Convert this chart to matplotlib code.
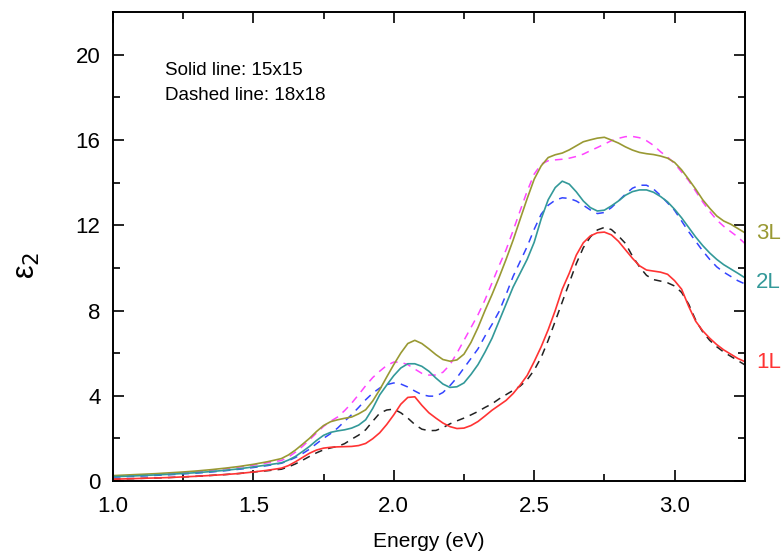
import numpy as np
import matplotlib
matplotlib.use('Agg')
import matplotlib.pyplot as plt
from matplotlib.ticker import MultipleLocator

plt.rcParams['font.family'] = ['Liberation Sans', 'DejaVu Sans']

# photon energy (eV): coarse below 1.6, finer where the spectra have structure
energy = np.round(np.concatenate([np.arange(1.0, 1.601, 0.05),
                                  np.arange(1.625, 3.2501, 0.025)]), 3)

# solid lines: 15x15
eps_3l = [0.25, 0.28, 0.31, 0.34, 0.38, 0.42, 0.47, 0.53, 0.60, 0.68, 0.78, 0.90, 1.05,
          1.22, 1.45, 1.72, 2.00, 2.32, 2.60, 2.78, 2.87, 2.94, 3.00, 3.15, 3.34, 3.75,
          4.28, 4.88, 5.46, 6.00, 6.45, 6.60, 6.45, 6.20, 5.93, 5.70, 5.62, 5.68, 5.95,
          6.50, 7.20, 8.00, 8.75, 9.55, 10.4, 11.3, 12.28, 13.25, 14.16, 14.79, 15.18,
          15.31, 15.39, 15.54, 15.73, 15.92, 16.01, 16.09, 16.13, 16.00, 15.86, 15.68,
          15.53, 15.42, 15.36, 15.32, 15.25, 15.15, 14.95, 14.60, 14.16, 13.70, 13.20,
          12.80, 12.44, 12.20, 12.05, 11.85, 11.65]
eps_2l = [0.20, 0.22, 0.25, 0.28, 0.31, 0.35, 0.39, 0.44, 0.50, 0.57, 0.66, 0.75, 0.85,
          0.98, 1.15, 1.38, 1.62, 1.90, 2.14, 2.28, 2.35, 2.40, 2.48, 2.62, 2.87, 3.40,
          4.04, 4.50, 4.94, 5.30, 5.50, 5.50, 5.38, 5.15, 4.83, 4.55, 4.39, 4.42, 4.60,
          5.00, 5.46, 6.05, 6.70, 7.50, 8.30, 9.10, 9.75, 10.4, 11.2, 12.3, 13.2, 13.77,
          14.07, 13.93, 13.57, 13.14, 12.83, 12.67, 12.71, 12.91, 13.14, 13.41, 13.58,
          13.66, 13.66, 13.55, 13.35, 13.10, 12.75, 12.35, 11.90, 11.45, 11.05, 10.70,
          10.40, 10.15, 9.95, 9.75, 9.54]
eps_1l = [0.08, 0.10, 0.12, 0.14, 0.16, 0.19, 0.22, 0.26, 0.30, 0.35, 0.42, 0.50, 0.60,
          0.72, 0.90, 1.10, 1.30, 1.45, 1.54, 1.58, 1.60, 1.61, 1.62, 1.66, 1.76, 1.98,
          2.26, 2.65, 3.10, 3.60, 3.92, 3.95, 3.55, 3.20, 2.95, 2.72, 2.55, 2.46, 2.48,
          2.60, 2.79, 3.05, 3.32, 3.55, 3.78, 4.10, 4.50, 4.95, 5.60, 6.30, 7.10, 8.00,
          9.00, 9.75, 10.6, 11.18, 11.5, 11.65, 11.68, 11.55, 11.25, 10.85, 10.45, 10.1,
          9.90, 9.85, 9.80, 9.70, 9.40, 9.00, 8.20, 7.50, 7.05, 6.70, 6.40, 6.15, 5.95,
          5.75, 5.60]

# dashed lines: 18x18
eps_3l_18 = [0.22, 0.25, 0.28, 0.31, 0.35, 0.39, 0.44, 0.50, 0.57, 0.65, 0.74, 0.85, 0.96,
             1.12, 1.35, 1.62, 1.93, 2.25, 2.56, 2.80, 3.00, 3.30, 3.65, 4.05, 4.47, 4.85,
             5.15, 5.42, 5.58, 5.57, 5.46, 5.25, 5.05, 4.97, 4.97, 5.10, 5.45, 6.00, 6.60,
             7.20, 7.80, 8.50, 9.30, 10.1, 10.85, 11.75, 12.68, 13.6, 14.4, 14.87, 15.03,
             15.07, 15.10, 15.15, 15.23, 15.34, 15.50, 15.65, 15.81, 15.97, 16.08, 16.16,
             16.17, 16.11, 15.97, 15.75, 15.45, 15.20, 14.90, 14.50, 14.10, 13.60, 13.10,
             12.65, 12.25, 11.95, 11.70, 11.45, 11.15]
eps_2l_18 = [0.18, 0.20, 0.23, 0.26, 0.29, 0.33, 0.37, 0.42, 0.48, 0.55, 0.63, 0.72, 0.83,
             0.95, 1.10, 1.28, 1.49, 1.75, 2.00, 2.22, 2.48, 2.80, 3.11, 3.45, 3.81, 4.12,
             4.36, 4.52, 4.60, 4.55, 4.41, 4.22, 4.05, 3.98, 3.98, 4.15, 4.47, 4.85, 5.30,
             5.75, 6.20, 6.80, 7.35, 7.95, 8.75, 9.60, 10.3, 11.0, 11.81, 12.52, 12.94,
             13.18, 13.29, 13.26, 13.14, 12.94, 12.72, 12.55, 12.60, 12.83, 13.14, 13.46,
             13.74, 13.88, 13.88, 13.70, 13.40, 13.05, 12.70, 12.20, 11.70, 11.25, 10.8,
             10.4, 10.05, 9.80, 9.60, 9.40, 9.25]
eps_1l_18 = [0.08, 0.10, 0.12, 0.14, 0.16, 0.19, 0.22, 0.26, 0.30, 0.35, 0.42, 0.48, 0.55,
             0.66, 0.80, 0.97, 1.15, 1.32, 1.46, 1.55, 1.62, 1.75, 1.96, 2.15, 2.40, 2.80,
             3.18, 3.33, 3.37, 3.20, 2.95, 2.65, 2.43, 2.36, 2.37, 2.50, 2.68, 2.82, 2.95,
             3.10, 3.26, 3.45, 3.62, 3.85, 4.05, 4.25, 4.45, 4.75, 5.20, 5.80, 6.60, 7.50,
             8.40, 9.30, 10.2, 10.95, 11.45, 11.78, 11.90, 11.80, 11.50, 11.15, 10.55,
             10.05, 9.65, 9.45, 9.38, 9.30, 9.15, 8.85, 8.30, 7.55, 7.00, 6.60, 6.30,
             6.05, 5.85, 5.65, 5.45]

c_3l, c_2l, c_1l = '#999933', '#339999', '#ff3333'

fig = plt.figure(figsize=(7.84, 5.56), dpi=100)
ax = fig.add_axes([0.144, 0.135, 0.806, 0.843])

dash = (0, (5, 4))
ax.plot(energy, eps_3l_18, color='#ff44ff', lw=1.1, ls=dash)
ax.plot(energy, eps_2l_18, color='#3344ff', lw=1.1, ls=dash)
ax.plot(energy, eps_1l_18, color='#222222', lw=1.1, ls=dash)
ax.plot(energy, eps_3l, color=c_3l, lw=1.2)
ax.plot(energy, eps_2l, color=c_2l, lw=1.2)
ax.plot(energy, eps_1l, color=c_1l, lw=1.2)

ax.set_xlim(1.0, 3.25)
ax.set_ylim(0, 22)
ax.xaxis.set_major_locator(MultipleLocator(0.5))
ax.xaxis.set_minor_locator(MultipleLocator(0.25))
ax.yaxis.set_major_locator(MultipleLocator(4))
ax.yaxis.set_minor_locator(MultipleLocator(2))
ax.tick_params(which='both', direction='in', top=True, right=True, width=1.2)
ax.tick_params(which='major', length=8, labelsize=16)
ax.tick_params(which='minor', length=5)
ax.tick_params(axis='x', which='major', pad=11)
ax.tick_params(axis='y', which='major', pad=9)
for sp in ax.spines.values():
    sp.set_linewidth(1.4)

ax.set_xlabel('Energy (eV)', fontsize=15, labelpad=11)
ax.set_ylabel('ε$_2$', fontsize=22)
ax.yaxis.set_label_coords(-0.112, 0.46)

ax.text(0.082, 0.866, 'Solid line: 15x15', transform=ax.transAxes, fontsize=13.5)
ax.text(0.082, 0.812, 'Dashed line: 18x18', transform=ax.transAxes, fontsize=13.5)

ax.text(3.29, 11.6, '3L', color=c_3l, fontsize=16, va='center', clip_on=False)
ax.text(3.29, 9.3, '2L', color=c_2l, fontsize=16, va='center', clip_on=False)
ax.text(3.29, 5.55, '1L', color=c_1l, fontsize=16, va='center', clip_on=False)

fig.savefig('out.png', dpi=100)
